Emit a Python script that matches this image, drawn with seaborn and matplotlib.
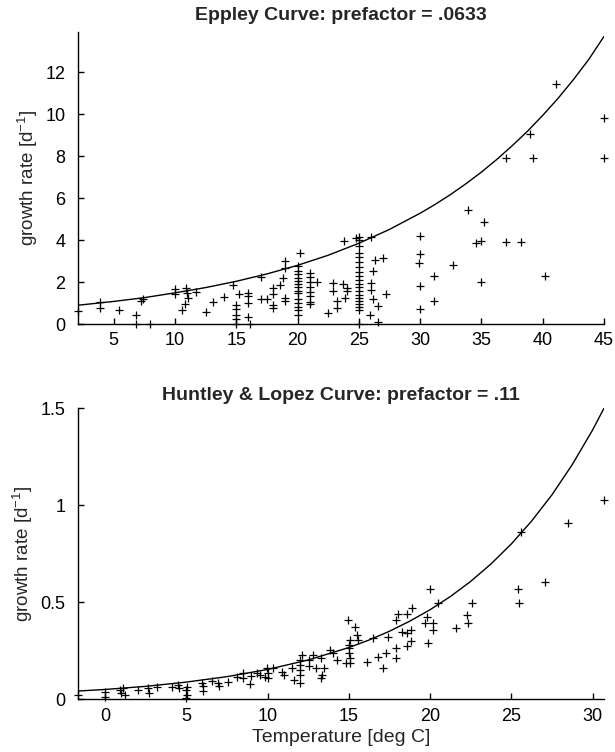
import numpy as np
import pandas as pd
import matplotlib
matplotlib.use("Agg")
import matplotlib.pyplot as plt
import seaborn as sns

sns.set_theme(style="white")
plt.rcParams['font.family'] = ['Liberation Sans', 'DejaVu Sans']
plt.rcParams['mathtext.default'] = 'regular'

# --- Eppley panel: observations (temperature, growth rate) ---
eppley_T = [2.1, 3.9, 3.9, 5.4, 6.8, 6.8, 7.2, 7.4, 8.0,
            10.0, 10.0, 10.9, 11.0, 11.1, 10.85, 10.6, 11.7, 12.5, 13.1, 14.0, 14.7, 15.2,
            15.0, 15.0, 15.0, 15.0, 15.0,
            16.0, 16.0, 16.0, 16.0, 16.1,
            17.0, 17.0, 17.5, 18.0, 18.0, 18.0, 18.0,
            18.6, 18.85, 19.0, 19.0, 19.0, 19.0,
            20.0, 20.0, 20.0, 20.0, 20.0, 20.0, 20.0, 20.0, 20.0, 20.0, 20.0, 20.0, 20.0, 20.0,
            20.2,
            21.0, 21.0, 21.0, 21.0, 21.0, 21.0, 21.0, 21.0,
            21.6, 22.5, 22.9, 22.9, 23.2, 23.2,
            23.8, 23.75, 24.0, 24.0, 23.9,
            25.0, 25.0, 25.0, 25.0, 25.0, 25.0, 25.0, 25.0, 25.0, 25.0,
            25.0, 25.0, 25.0, 25.0, 25.0, 25.0, 25.0, 25.0, 25.0, 25.0,
            24.8, 26.0,
            26.3, 27.0, 26.2, 26.0, 26.0, 26.2, 26.6, 25.9, 26.6, 27.2,
            30.0, 30.0, 29.9, 30.0, 30.0, 31.1, 31.1, 32.7, 33.9,
            35.2, 34.6, 35.0, 35.0,
            37.0, 38.2, 37.0, 39.2, 39.0, 41.1, 40.2, 45.0, 45.0]
eppley_mu = [0.63, 1.03, 0.76, 0.66, 0.42, 0.02, 1.08, 1.22, 0.02,
             1.65, 1.44, 1.73, 1.50, 1.24, 0.97, 0.65, 1.53, 0.58, 1.06, 1.31, 1.85, 1.45,
             0.90, 0.70, 0.45, 0.25, 0.02,
             1.50, 1.35, 1.00, 0.35, 0.02,
             2.25, 1.20, 1.20, 1.70, 1.45, 0.90, 0.75,
             1.88, 2.20, 3.02, 2.65, 1.26, 1.08,
             2.75, 2.55, 2.38, 2.22, 2.06, 1.90, 1.78, 1.60, 1.46, 1.22, 1.02, 0.83, 0.67, 0.43,
             3.40,
             2.45, 2.25, 2.00, 1.75, 1.55, 1.32, 1.05, 0.95,
             2.00, 0.52, 1.95, 1.56, 1.08, 0.78,
             3.97, 1.89, 1.73, 1.56, 1.24,
             4.15, 4.00, 3.70, 3.40, 3.20, 2.95, 2.70, 2.50, 2.30, 2.10,
             1.90, 1.75, 1.60, 1.40, 1.25, 1.10, 0.95, 0.80, 0.65, 0.02,
             4.10, 4.16,
             3.05, 3.17, 2.52, 1.94, 1.62, 1.22, 0.86, 0.43, 0.11, 1.43,
             4.19, 3.32, 2.89, 1.81, 0.73, 2.30, 1.11, 2.81, 5.43,
             4.87, 3.87, 3.97, 2.00,
             3.92, 3.92, 7.92, 7.92, 9.08, 11.46, 2.30, 9.83, 7.92]

# Eppley curve values
eppley_curve_T = [2.1, 5, 7.5, 10, 12.5, 15, 17.5, 20, 22.5, 25, 27.5, 30,
                  31.25, 32.5, 33.75, 35, 36.25, 37.5, 38.75, 40, 41.25, 42.5, 43.75, 45]
eppley_curve_mu = [0.90, 1.08, 1.26, 1.49, 1.74, 2.04, 2.39, 2.80, 3.28, 3.85, 4.51, 5.28,
                   5.71, 6.18, 6.69, 7.24, 7.84, 8.49, 9.18, 9.94, 10.75, 11.64, 12.60, 13.70]

# --- Huntley & Lopez panel ---
hl_T = [-1.64, 0.0, 0.0, 0.92, 1.13, 1.0, 1.23, 2.05, 2.67, 2.7, 3.18, 4.1, 4.5, 4.55,
        5.03, 5.0, 5.05, 5.0, 5.95, 6.05, 6.05, 6.55, 6.97, 7.0, 7.58, 8.1, 8.5, 8.5, 8.9, 8.95,
        9.34, 9.54, 9.85, 9.98, 10.05, 10.05, 10.35, 10.87, 11.0, 11.5, 11.6,
        12.0, 12.0, 12.0, 12.0, 12.0, 12.1, 12.58, 12.58, 12.82, 13.0, 13.26, 13.35, 13.3, 13.47,
        13.85, 14.05, 14.25, 14.93, 15.38, 15.48, 15.08, 15.0, 15.0, 15.0, 15.05, 14.85, 15.1,
        15.58, 16.1, 16.47, 16.82, 17.09, 17.3, 17.44, 17.9, 17.93, 17.9, 18.0, 18.25, 18.56,
        18.6, 18.9, 19.8, 19.7, 20.2, 20.15, 18.8, 18.56, 18.8, 19.9, 20.0, 20.5,
        21.6, 22.3, 22.35, 22.56, 25.4, 25.5, 27.1, 25.6, 28.5, 30.7]
hl_mu = [0.022, 0.04, 0.014, 0.048, 0.057, 0.031, 0.022, 0.048, 0.057, 0.034, 0.062, 0.062, 0.074, 0.057,
         0.065, 0.048, 0.022, 0.005, 0.082, 0.069, 0.045, 0.096, 0.082, 0.069, 0.091, 0.117, 0.137, 0.108, 0.079, 0.12,
         0.134, 0.125, 0.117, 0.16, 0.134, 0.108, 0.16, 0.143, 0.125, 0.16, 0.10,
         0.203, 0.177, 0.151, 0.125, 0.082, 0.229, 0.203, 0.172, 0.229, 0.16, 0.108, 0.125, 0.211, 0.16,
         0.254, 0.237, 0.203, 0.409, 0.375, 0.332, 0.306, 0.28, 0.263, 0.237, 0.211, 0.186, 0.186,
         0.306, 0.194, 0.314, 0.22, 0.16, 0.237, 0.323, 0.211, 0.263, 0.409, 0.44, 0.349, 0.275,
         0.438, 0.469, 0.426, 0.392, 0.392, 0.357, 0.357, 0.34, 0.302, 0.289, 0.569, 0.495,
         0.369, 0.435, 0.392, 0.495, 0.569, 0.495, 0.607, 0.861, 0.911, 1.027]

hl_curve_T = [-1.66, 0, 2.5, 5, 7.5, 10, 12.5, 15, 16.25, 17.5, 18.75, 20, 21.25, 22.5,
              23.75, 25, 26.25, 27.5, 28.75, 30, 30.7]
hl_curve_mu = [0.043, 0.051, 0.067, 0.089, 0.117, 0.154, 0.203, 0.267, 0.306, 0.351, 0.403,
               0.462, 0.530, 0.608, 0.698, 0.801, 0.919, 1.054, 1.210, 1.388, 1.50]

eppley_df = pd.DataFrame({'T': eppley_T, 'mu': eppley_mu})
hl_df = pd.DataFrame({'T': hl_T, 'mu': hl_mu})

fig = plt.figure(figsize=(6.15, 7.52), dpi=100)
ax1 = fig.add_axes([0.127, 0.569, 0.855, 0.388])
ax2 = fig.add_axes([0.127, 0.070, 0.855, 0.387])


def style_axis(ax):
    sns.despine(ax=ax)
    for s in ['left', 'bottom']:
        ax.spines[s].set_linewidth(1.0)
        ax.spines[s].set_color('black')
    ax.tick_params(direction='in', length=4, width=1.0, colors='black',
                   labelsize=13, pad=6, bottom=True, left=True)
    ax.tick_params(axis='y', pad=9)
    ax.grid(False)


# top panel
sns.lineplot(x=eppley_curve_T, y=eppley_curve_mu, ax=ax1, color='black', linewidth=1.0)
sns.scatterplot(data=eppley_df, x='T', y='mu', ax=ax1, marker='+', color='black',
                s=40, linewidth=0.9, clip_on=False)
ax1.set_xlim(2.1, 45)
ax1.set_ylim(0, 13.9)
ax1.set_xticks([5, 10, 15, 20, 25, 30, 35, 40, 45])
ax1.set_yticks([0, 2, 4, 6, 8, 10, 12])
ax1.set_title('Eppley Curve: prefactor = .0633', fontsize=14, fontweight='bold', pad=9)
ax1.set_xlabel('')
ax1.set_ylabel('growth rate [d$^{-1}$]', fontsize=13.5, labelpad=4)
style_axis(ax1)

# bottom panel
sns.lineplot(x=hl_curve_T, y=hl_curve_mu, ax=ax2, color='black', linewidth=1.0)
sns.scatterplot(data=hl_df, x='T', y='mu', ax=ax2, marker='+', color='black',
                s=40, linewidth=0.9, clip_on=False)
ax2.set_xlim(-1.66, 30.7)
ax2.set_ylim(0, 1.5)
ax2.set_xticks([0, 5, 10, 15, 20, 25, 30])
ax2.set_yticks([0, 0.5, 1, 1.5])
ax2.set_yticklabels(['0', '0.5', '1', '1.5'])
ax2.set_title('Huntley & Lopez Curve: prefactor = .11', fontsize=14, fontweight='bold', pad=6)
ax2.set_xlabel('Temperature [deg C]', fontsize=14, labelpad=3)
ax2.set_ylabel('growth rate [d$^{-1}$]', fontsize=13.5, labelpad=4)
style_axis(ax2)

fig.savefig('out.png', dpi=100)
